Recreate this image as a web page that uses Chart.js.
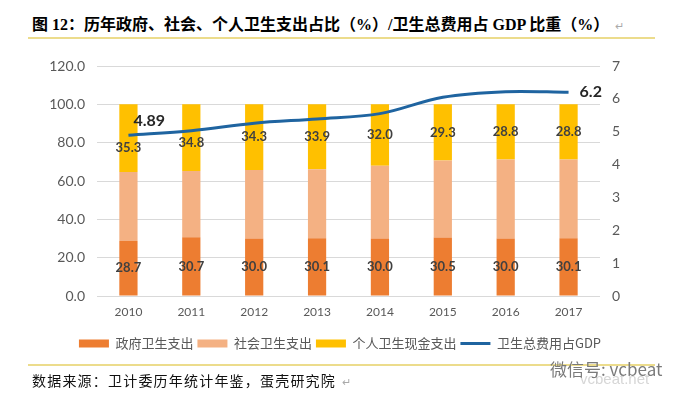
<!DOCTYPE html>
<html>
<head>
<meta charset="utf-8">
<script src="https://cdn.jsdelivr.net/npm/chart.js@4.4.1/dist/chart.umd.min.js"></script>
<style>
  html, body { margin: 0; padding: 0; background: #fff; }
  #page { position: relative; width: 684px; height: 396px; overflow: hidden; background: #fff; }
  .title { position: absolute; left: 32px; top: 13px; font: bold 16px "Liberation Serif", "Noto Sans CJK SC", serif; color: #000; white-space: nowrap; line-height: 24px; }
  .mark { color: #aaa; font-weight: normal; font-size: 11px; margin-left: 6px; }
  .rule { position: absolute; left: 28px; width: 627px; height: 2px; background: #ecdc8c; }
  .source { position: absolute; left: 32px; top: 370px; font: 14px "Noto Sans CJK SC", sans-serif; letter-spacing: 1.2px; color: #111; white-space: nowrap; line-height: 20px; }
  .wm1 { position: absolute; left: 550px; top: 356px; font: 17px "Noto Sans CJK SC", sans-serif; color: #7a7a7a; white-space: nowrap; }
  .wm2 { position: absolute; left: 580px; top: 370px; font: 15px "Liberation Sans", sans-serif; color: #d6d6d6; white-space: nowrap; }
  #wrap { position: absolute; left: 0; top: 45px; width: 684px; height: 320px; }
</style>
</head>
<body>
<div id="page">
  <div class="title">图 12：历年政府、社会、个人卫生支出占比（%）/卫生总费用占 GDP 比重（%）<span class="mark">↵</span></div>
  <div class="rule" style="top:37px"></div>
  <div id="wrap"><canvas id="chart" width="684" height="320"></canvas></div>
  <div class="rule" style="top:364px"></div>
  <div class="source">数据来源：卫计委历年统计年鉴，蛋壳研究院<span class="mark">↵</span></div>
  <div class="wm2">vcbeat.net</div>
  <div class="wm1">微信号: vcbeat</div>
</div>
<script>
const years = ['2010', '2011', '2012', '2013', '2014', '2015', '2016', '2017'];
const govShare = [28.7, 30.7, 30.0, 30.1, 30.0, 30.5, 30.0, 30.1];
const socialShare = [36.0, 34.5, 35.7, 36.0, 38.0, 40.2, 41.2, 41.1];
const personalShare = [35.3, 34.8, 34.3, 33.9, 32.0, 29.3, 28.8, 28.8];
const gdpShare = [4.89, 5.03, 5.26, 5.39, 5.55, 6.05, 6.22, 6.2];
const seriesNames = ['政府卫生支出', '社会卫生支出', '个人卫生现金支出', '卫生总费用占GDP'];

const tickColor = '#595959';

// bar value labels + line end labels
const valueLabels = {
  id: 'valueLabels',
  afterDatasetsDraw(chart) {
    const ctx = chart.ctx;
    const lineMeta = chart.getDatasetMeta(3);
    ctx.save();
    ctx.textAlign = 'center';
    ctx.textBaseline = 'middle';
    ctx.font = 'bold 13px Lato, sans-serif';
    ctx.fillStyle = '#404040';
    [0, 2].forEach(di => {
      chart.getDatasetMeta(di).data.forEach((bar, i) => {
        let y = (bar.y + bar.base) / 2;
        const ly = lineMeta.data[i].y;
        if (di === 2 && Math.abs(y - ly) < 10) y = ly + 12;
        ctx.fillText(chart.data.datasets[di].data[i].toFixed(1), bar.x, y);
      });
    });
    ctx.textAlign = 'left';
    ctx.font = 'bold 16px Lato, sans-serif';
    ctx.fillStyle = '#262626';
    const first = lineMeta.data[0];
    const last = lineMeta.data[lineMeta.data.length - 1];
    ctx.fillText(String(gdpShare[0]), first.x + 5, first.y - 14);
    ctx.fillText(String(gdpShare[gdpShare.length - 1]), last.x + 11, last.y);
    ctx.restore();
  }
};

new Chart(document.getElementById('chart'), {
  type: 'bar',
  data: {
    labels: years,
    datasets: [
      { label: seriesNames[0], data: govShare, backgroundColor: '#ED7D31', yAxisID: 'y' },
      { label: seriesNames[1], data: socialShare, backgroundColor: '#F4B183', yAxisID: 'y' },
      { label: seriesNames[2], data: personalShare, backgroundColor: '#FFC000', yAxisID: 'y' },
      {
        type: 'line', label: seriesNames[3], data: gdpShare, yAxisID: 'y1',
        borderColor: '#1F64A0', backgroundColor: '#1F64A0', borderWidth: 3,
        pointRadius: 0, tension: 0.35, order: -1
      }
    ]
  },
  options: {
    responsive: false,
    animation: false,
    barPercentage: 0.29,
    categoryPercentage: 1,
    layout: { padding: { top: 21, left: 20, right: 24, bottom: 5 } },
    plugins: {
      tooltip: { enabled: false },
      legend: {
        position: 'bottom',
        labels: {
          usePointStyle: true,
          pointStyleWidth: 30,
          boxHeight: 8,
          padding: 4,
          color: tickColor,
          font: { family: '"Noto Sans CJK SC", sans-serif', size: 13 },
          sort: (a, b) => a.datasetIndex - b.datasetIndex,
          generateLabels: (chart) => Chart.defaults.plugins.legend.labels.generateLabels(chart)
            .map(item => ({ ...item, pointStyle: item.datasetIndex === 3 ? 'line' : 'rect' }))
        }
      }
    },
    scales: {
      x: {
        stacked: true,
        grid: { display: false },
        border: { display: false },
        ticks: { color: tickColor, font: { family: 'Lato, sans-serif', size: 12 }, padding: 1 },
        afterFit: (s) => { s.height = 37; }
      },
      y: {
        stacked: true,
        position: 'left',
        min: 0, max: 120,
        ticks: { stepSize: 20, color: tickColor, padding: 12, font: { family: 'Lato, sans-serif', size: 14 }, callback: v => v.toFixed(1) },
        grid: { color: '#D9D9D9', drawTicks: false },
        border: { display: false },
        afterFit: (s) => { s.width = 77; }
      },
      y1: {
        position: 'right',
        min: 0, max: 7,
        ticks: { stepSize: 1, color: tickColor, padding: 12, font: { family: 'Lato, sans-serif', size: 14 } },
        grid: { display: false, drawTicks: false },
        border: { display: false },
        afterFit: (s) => { s.width = 60; }
      }
    }
  },
  plugins: [valueLabels]
});
</script>
</body>
</html>
